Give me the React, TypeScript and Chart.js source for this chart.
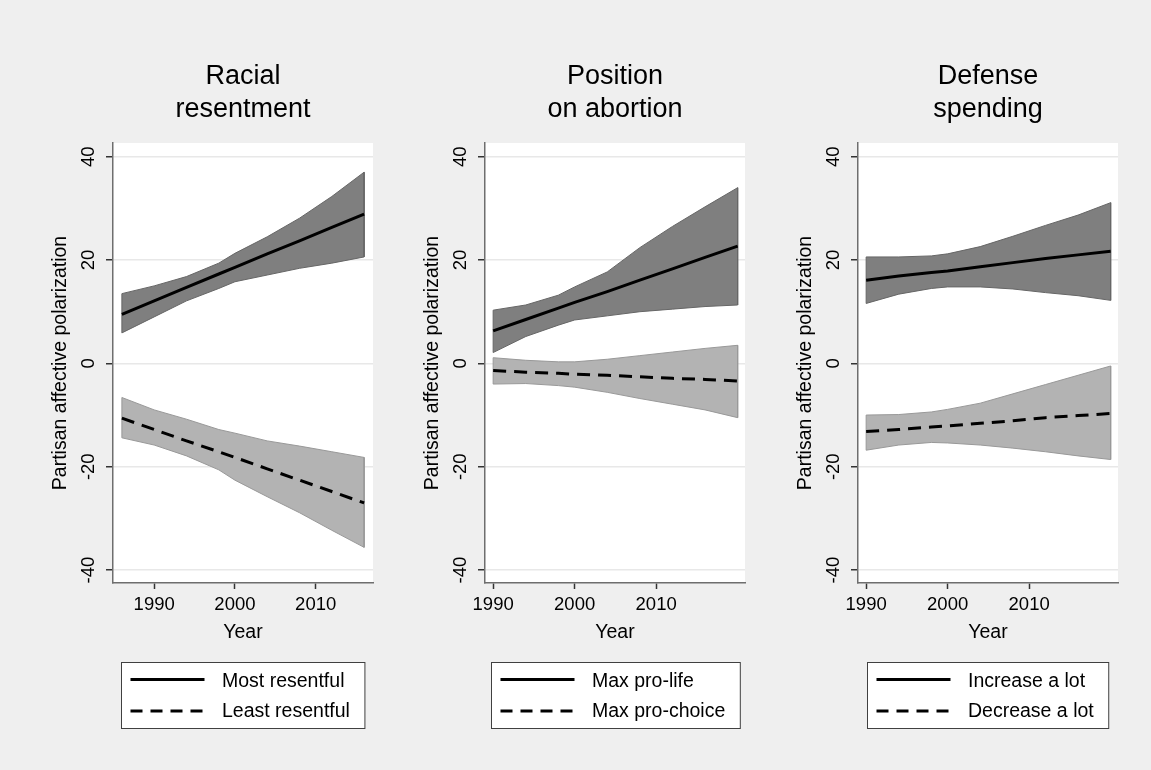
import React, { useEffect, useRef } from "react";
import { Chart, registerables } from "chart.js";

Chart.register(...registerables);

const FONT = '"Liberation Sans", Arial, Helvetica, sans-serif';

// Shared axes
const Y_TICKS = [-40, -20, 0, 20, 40];
const X_TICKS = [1990, 2000, 2010];
const Y_TITLE = "Partisan affective polarization";
const X_TITLE = "Year";

// Racial resentment
const RR_TITLE = ["Racial", "resentment"];
const RR_LABELS = ["Most resentful", "Least resentful"];
const RR_YEARS = [1986, 1990, 1994, 1998, 2000, 2004, 2008, 2012, 2016];
const RR_MOST = [9.5, 12.1, 14.7, 17.3, 18.6, 21.2, 23.7, 26.3, 28.9];
const RR_MOST_HI = [13.5, 15.0, 16.8, 19.4, 21.3, 24.5, 28.1, 32.3, 37.0];
const RR_MOST_LO = [5.9, 9.0, 12.1, 14.5, 15.8, 17.1, 18.4, 19.4, 20.6];
const RR_LEAST = [-10.6, -12.8, -15.0, -17.1, -18.2, -20.4, -22.6, -24.8, -27.0];
const RR_LEAST_HI = [-6.6, -9.0, -10.8, -12.8, -13.5, -15.0, -16.0, -17.1, -18.2];
const RR_LEAST_LO = [-14.4, -15.8, -17.9, -20.6, -22.6, -25.8, -28.9, -32.3, -35.6];

// Position on abortion
const AB_TITLE = ["Position", "on abortion"];
const AB_LABELS = ["Max pro-life", "Max pro-choice"];
const AB_YEARS = [1990, 1994, 1998, 2000, 2004, 2008, 2012, 2016, 2020];
const AB_LIFE = [6.3, 8.5, 10.7, 11.8, 13.9, 16.1, 18.3, 20.5, 22.7];
const AB_LIFE_HI = [10.3, 11.3, 13.2, 14.8, 17.7, 22.4, 26.5, 30.3, 34.0];
const AB_LIFE_LO = [2.1, 5.2, 7.4, 8.4, 9.2, 10.0, 10.5, 11.0, 11.3];
const AB_CHOICE = [-1.4, -1.7, -1.9, -2.1, -2.3, -2.6, -2.9, -3.1, -3.4];
const AB_CHOICE_HI = [1.1, 0.6, 0.3, 0.3, 0.8, 1.5, 2.2, 2.9, 3.5];
const AB_CHOICE_LO = [-4.0, -3.9, -4.3, -4.6, -5.6, -6.8, -7.9, -9.0, -10.5];

// Defense spending
const DS_TITLE = ["Defense", "spending"];
const DS_LABELS = ["Increase a lot", "Decrease a lot"];
const DS_YEARS = [1990, 1994, 1998, 2000, 2004, 2008, 2012, 2016, 2020];
const DS_INC = [16.1, 16.9, 17.6, 17.9, 18.7, 19.5, 20.3, 21.0, 21.7];
const DS_INC_HI = [20.6, 20.6, 20.8, 21.2, 22.6, 24.6, 26.7, 28.7, 31.1];
const DS_INC_LO = [11.6, 13.4, 14.5, 14.8, 14.8, 14.4, 13.7, 13.1, 12.2];
const DS_DEC = [-13.2, -12.8, -12.3, -12.1, -11.6, -11.1, -10.5, -10.1, -9.7];
const DS_DEC_HI = [-10.0, -9.9, -9.4, -8.9, -7.7, -5.9, -4.1, -2.3, -0.5];
const DS_DEC_LO = [-16.8, -15.8, -15.3, -15.4, -15.8, -16.4, -17.1, -17.9, -18.6];

type Series = { mean: number[]; hi: number[]; lo: number[] };
type PanelSpec = {
  title: string[];
  labels: string[];
  years: number[];
  top: Series;
  bottom: Series;
  xMin: number;
  xMax: number;
  left: number;
};

const PANELS: PanelSpec[] = [
  {
    title: RR_TITLE,
    labels: RR_LABELS,
    years: RR_YEARS,
    top: { mean: RR_MOST, hi: RR_MOST_HI, lo: RR_MOST_LO },
    bottom: { mean: RR_LEAST, hi: RR_LEAST_HI, lo: RR_LEAST_LO },
    xMin: 1984.9,
    xMax: 2017.1,
    left: 0,
  },
  {
    title: AB_TITLE,
    labels: AB_LABELS,
    years: AB_YEARS,
    top: { mean: AB_LIFE, hi: AB_LIFE_HI, lo: AB_LIFE_LO },
    bottom: { mean: AB_CHOICE, hi: AB_CHOICE_HI, lo: AB_CHOICE_LO },
    xMin: 1989.0,
    xMax: 2020.9,
    left: 372,
  },
  {
    title: DS_TITLE,
    labels: DS_LABELS,
    years: DS_YEARS,
    top: { mean: DS_INC, hi: DS_INC_HI, lo: DS_INC_LO },
    bottom: { mean: DS_DEC, hi: DS_DEC_HI, lo: DS_DEC_LO },
    xMin: 1989.0,
    xMax: 2020.9,
    left: 745,
  },
];

const CANVAS_W = 383;
const CANVAS_H = 770;
const PLOT_LEFT = 113;
const PLOT_W = 260;
const PLOT_TOP = 143;
const X_AXIS_H = 70;
const PLOT_BOTTOM = 583;

// Closed outline of a confidence band: upper edge forward, lower edge back.
function bandPolygon(years: number[], hi: number[], lo: number[]) {
  const pts = years.map((x, i) => ({ x, y: hi[i] }));
  for (let i = years.length - 1; i >= 0; i--) pts.push({ x: years[i], y: lo[i] });
  pts.push({ x: years[0], y: hi[0] });
  return pts;
}

function linePoints(years: number[], ys: number[]) {
  return years.map((x, i) => ({ x, y: ys[i] }));
}

function Panel({ spec }: { spec: PanelSpec }) {
  const ref = useRef<HTMLCanvasElement | null>(null);

  useEffect(() => {
    if (!ref.current) return;

    const decor = {
      id: "panelDecor",
      beforeDraw(chart: any) {
        const { ctx, chartArea: a } = chart;
        ctx.save();
        ctx.fillStyle = "#ffffff";
        ctx.fillRect(a.left, a.top, a.right - a.left, a.bottom - a.top);
        ctx.restore();
      },
      afterDraw(chart: any) {
        const { ctx, chartArea: a } = chart;
        const cx = (a.left + a.right) / 2;
        ctx.save();

        // Panel title
        ctx.fillStyle = "#000";
        ctx.font = `27px ${FONT}`;
        ctx.textAlign = "center";
        ctx.textBaseline = "alphabetic";
        ctx.fillText(spec.title[0], cx, 83.5);
        ctx.fillText(spec.title[1], cx, 117);

        // Legend box
        ctx.font = `19.5px ${FONT}`;
        const tw = Math.max(...spec.labels.map((l) => ctx.measureText(l).width));
        const padL = 9;
        const lineLen = 74;
        const gap = 17.5;
        const padR = 15;
        const boxW = padL + lineLen + gap + tw + padR;
        const bx = Math.round(cx - boxW / 2) + 0.5;
        const by = 662.5;
        const bh = 66;
        ctx.fillStyle = "#ffffff";
        ctx.fillRect(bx, by, boxW, bh);
        ctx.strokeStyle = "#404040";
        ctx.lineWidth = 1;
        ctx.strokeRect(bx, by, boxW, bh);

        const rows = [679.5, 711];
        const dashes = [[], [12, 8]];
        ctx.strokeStyle = "#000";
        ctx.lineWidth = 3;
        rows.forEach((ry, i) => {
          ctx.setLineDash(dashes[i]);
          ctx.beginPath();
          ctx.moveTo(bx + padL, ry);
          ctx.lineTo(bx + padL + lineLen, ry);
          ctx.stroke();
        });
        ctx.setLineDash([]);
        ctx.fillStyle = "#000";
        ctx.textAlign = "left";
        ctx.textBaseline = "alphabetic";
        ctx.fillText(spec.labels[0], bx + padL + lineLen + gap, 686.7);
        ctx.fillText(spec.labels[1], bx + padL + lineLen + gap, 716.7);
        ctx.restore();
      },
    };

    const chart = new Chart(ref.current, {
      type: "line",
      data: {
        datasets: [
          {
            data: bandPolygon(spec.years, spec.top.hi, spec.top.lo),
            fill: "shape",
            backgroundColor: "#7f7f7f",
            borderColor: "#666666",
            borderWidth: 1,
            pointRadius: 0,
            tension: 0,
            order: 2,
          },
          {
            data: bandPolygon(spec.years, spec.bottom.hi, spec.bottom.lo),
            fill: "shape",
            backgroundColor: "#b3b3b3",
            borderColor: "#999999",
            borderWidth: 1,
            pointRadius: 0,
            tension: 0,
            order: 2,
          },
          {
            data: linePoints(spec.years, spec.top.mean),
            fill: false,
            borderColor: "#000000",
            borderWidth: 3,
            pointRadius: 0,
            tension: 0,
            order: 0,
          },
          {
            data: linePoints(spec.years, spec.bottom.mean),
            fill: false,
            borderColor: "#000000",
            borderWidth: 3,
            borderDash: [13, 8],
            pointRadius: 0,
            tension: 0,
            order: 0,
          },
        ],
      } as any,
      options: {
        responsive: false,
        animation: false,
        events: [],
        devicePixelRatio: 1,
        layout: {
          padding: {
            left: 0,
            right: CANVAS_W - PLOT_LEFT - PLOT_W,
            top: PLOT_TOP,
            bottom: CANVAS_H - PLOT_BOTTOM - X_AXIS_H,
          },
        },
        plugins: {
          legend: { display: false },
          title: { display: false },
          tooltip: { enabled: false },
        },
        scales: {
          x: {
            type: "linear",
            min: spec.xMin,
            max: spec.xMax,
            afterBuildTicks: (s: any) => {
              s.ticks = X_TICKS.map((v) => ({ value: v }));
            },
            afterFit: (s: any) => {
              s.height = X_AXIS_H;
              s.paddingLeft = 0;
              s.paddingRight = 0;
            },
            grid: {
              drawOnChartArea: false,
              drawTicks: true,
              tickLength: 6,
              tickColor: "#333333",
              tickWidth: 1.5,
            },
            border: { display: true, color: "#6e6e6e", width: 1.5 },
            ticks: {
              font: { family: FONT, size: 18.5 },
              color: "#000",
              padding: 5,
              maxRotation: 0,
              minRotation: 0,
              autoSkip: false,
              callback: (v: any) => String(v),
            },
            title: {
              display: true,
              text: X_TITLE,
              font: { family: FONT, size: 19.5 },
              color: "#000",
              padding: { top: 0, bottom: 9 },
            },
          },
          y: {
            type: "linear",
            min: -42.5,
            max: 42.65,
            afterBuildTicks: (s: any) => {
              s.ticks = Y_TICKS.map((v) => ({ value: v }));
            },
            afterFit: (s: any) => {
              s.width = PLOT_LEFT;
              s.paddingTop = 0;
              s.paddingBottom = 0;
            },
            grid: {
              color: "#e8e8e8",
              lineWidth: 1.5,
              drawTicks: true,
              tickLength: 7,
              tickColor: "#333333",
              tickWidth: 1.5,
            },
            border: { display: true, color: "#6e6e6e", width: 1.5 },
            ticks: {
              font: { family: FONT, size: 18.5 },
              color: "#000",
              padding: 3.5,
              minRotation: 90,
              maxRotation: 90,
              crossAlign: "center",
              autoSkip: false,
              callback: (v: any) => String(v),
            },
            title: {
              display: true,
              text: Y_TITLE,
              font: { family: FONT, size: 19.5 },
              color: "#000",
              padding: { top: 48.5, bottom: 0 },
            },
          },
        },
      } as any,
      plugins: [decor],
    });

    return () => chart.destroy();
  }, [spec]);

  return (
    <canvas
      ref={ref}
      width={CANVAS_W}
      height={CANVAS_H}
      style={{ position: "absolute", left: spec.left, top: 0, width: CANVAS_W, height: CANVAS_H }}
    />
  );
}

export default function App() {
  return (
    <div
      style={{
        position: "fixed",
        left: 0,
        top: 0,
        width: 1151,
        height: 770,
        background: "#efefef",
        overflow: "hidden",
      }}
    >
      {PANELS.map((p, i) => (
        <Panel key={i} spec={p} />
      ))}
    </div>
  );
}
